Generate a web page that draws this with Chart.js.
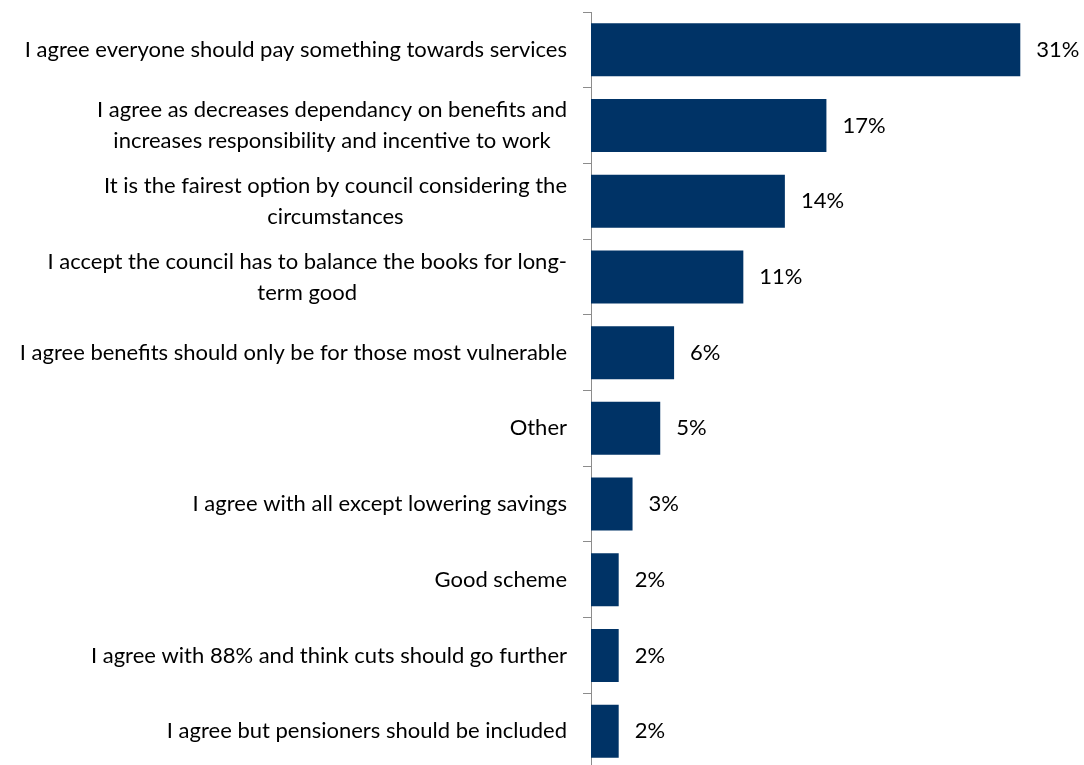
<!DOCTYPE html>
<html>
<head>
<meta charset="utf-8">
<script src="https://cdn.jsdelivr.net/npm/chart.js@4.4.1/dist/chart.umd.min.js"></script>
<style>
  html, body { margin: 0; padding: 0; background: #fff; overflow: hidden; }
  #wrap { width: 1084px; height: 765px; overflow: hidden; }
</style>
</head>
<body>
<div id="wrap">
  <canvas id="grafico" width="1084" height="790"></canvas>
</div>
<script>
// Categorias (cada linha do rótulo em um item)
const categorias = [
  ['I agree everyone should pay something towards services'],
  ['I agree as decreases dependancy on benefits and', 'increases responsibility and incentive to work'],
  ['It is the fairest option by council considering the', 'circumstances'],
  ['I accept the council has to balance the books for long-', 'term good'],
  ['I agree benefits should only be for those most vulnerable'],
  ['Other'],
  ['I agree with all except lowering savings'],
  ['Good scheme'],
  ['I agree with 88% and think cuts should go further'],
  ['I agree but pensioners should be included']
];
const valores = [31, 17, 14, 11, 6, 5, 3, 2, 2, 2];
const rotulosValores = ['31%', '17%', '14%', '11%', '6%', '5%', '3%', '2%', '2%', '2%'];

const FONTE = '22px Lato';
const LARGURA_EIXO = 591;
const DIREITA_TEXTO = 567;

// Desenha os rótulos das categorias (bloco alinhado à direita, linhas centralizadas)
const rotulosCategorias = {
  id: 'rotulosCategorias',
  afterDraw(chart) {
    const ctx = chart.ctx;
    const y = chart.scales.y;
    ctx.save();
    ctx.font = FONTE;
    ctx.fillStyle = '#000';
    ctx.textBaseline = 'middle';
    ctx.textAlign = 'center';
    categorias.forEach((linhas, i) => {
      const centro = y.getPixelForTick(i);
      const larg = Math.max(...linhas.map(l => ctx.measureText(l).width));
      const cx = DIREITA_TEXTO - larg / 2;
      const alturaLinha = 31;
      const inicio = centro - (linhas.length - 1) * alturaLinha / 2;
      linhas.forEach((l, j) => ctx.fillText(l, cx, inicio + j * alturaLinha));
    });
    ctx.restore();
  }
};

// Rótulos de valor ao lado das barras
const rotulosBarras = {
  id: 'rotulosBarras',
  afterDatasetsDraw(chart) {
    const ctx = chart.ctx;
    const x = chart.scales.x;
    const y = chart.scales.y;
    ctx.save();
    ctx.font = FONTE;
    ctx.fillStyle = '#000';
    ctx.textBaseline = 'middle';
    ctx.textAlign = 'left';
    valores.forEach((v, i) => {
      ctx.fillText(rotulosValores[i], x.getPixelForValue(v) + 16, y.getPixelForTick(i));
    });
    ctx.restore();
  }
};

const ctx = document.getElementById('grafico').getContext('2d');
new Chart(ctx, {
  type: 'bar',
  data: {
    labels: categorias,
    datasets: [{
      data: valores,
      backgroundColor: '#003366',
      borderWidth: 0,
      barPercentage: 0.7,
      categoryPercentage: 1
    }]
  },
  options: {
    indexAxis: 'y',
    responsive: false,
    animation: false,
    layout: { padding: { top: 12, bottom: 21, left: 0, right: 0 } },
    plugins: {
      legend: { display: false },
      tooltip: { enabled: false }
    },
    scales: {
      x: { display: false, min: 0, max: 35.6 },
      y: {
        afterFit(scale) { scale.width = LARGURA_EIXO; },
        ticks: { display: false },
        grid: {
          offset: true,
          drawOnChartArea: false,
          drawTicks: true,
          tickLength: 8,
          color: '#8c8c8c'
        },
        border: { color: '#8c8c8c', width: 1 }
      }
    }
  },
  plugins: [rotulosCategorias, rotulosBarras]
});
</script>
</body>
</html>
